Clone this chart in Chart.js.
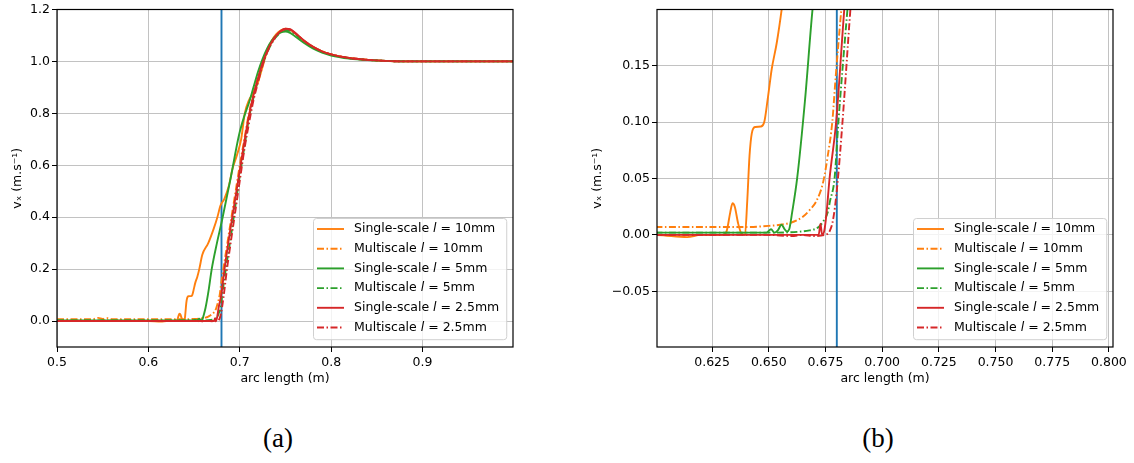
<!DOCTYPE html>
<html>
<head>
<meta charset="utf-8">
<script src="https://cdn.jsdelivr.net/npm/chart.js@4.4.0/dist/chart.umd.min.js"></script>
<style>
  body { margin: 0; background: #fff; width: 1134px; height: 463px; position: relative; overflow: hidden; }
  canvas { position: absolute; top: 0; }
  #left { left: 0; }
  #right { left: 567px; }
  .cap { position: absolute; top: 423px; width: 60px; margin-left: -30px; text-align: center;
         font-family: "Liberation Serif", "DejaVu Serif", serif; font-size: 27px; line-height: 30px; color: #000; }
</style>
</head>
<body>
<canvas id="left" width="567" height="395"></canvas>
<canvas id="right" width="567" height="395"></canvas>
<div class="cap" style="left:278px">(a)</div>
<div class="cap" style="left:878px">(b)</div>
<script>
// vertical marker
const markerX = 0.68;
const markerSpan = [-1, 2];

// Single-scale l = 10mm
const ss10x = [0.5, 0.52, 0.545, 0.55, 0.555, 0.56, 0.58, 0.6, 0.614, 0.62, 0.63, 0.6315, 0.633, 0.634, 0.635, 0.6365, 0.638, 0.6395, 0.6405, 0.6415, 0.6425, 0.644, 0.6465, 0.648, 0.6495, 0.6513, 0.6535, 0.6557, 0.659, 0.6655, 0.6716, 0.6755, 0.679, 0.683, 0.688, 0.692, 0.697, 0.7015, 0.7055, 0.71, 0.715, 0.72, 0.725, 0.73, 0.735, 0.74, 0.745, 0.75, 0.755, 0.76, 0.77, 0.78, 0.79, 0.80, 0.82, 0.84, 0.86, 0.88, 0.9, 0.95, 1.0];
const ss10y = [0, 0.001, 0, 0.003, 0, 0.002, 0, 0, -0.002, 0, 0, 0.004, 0.02, 0.028, 0.025, 0.01, 0.001, 0, 0.03, 0.07, 0.09, 0.0956, 0.096, 0.1, 0.12, 0.147, 0.17, 0.2, 0.255, 0.30, 0.357, 0.40, 0.446, 0.47, 0.52, 0.586, 0.64, 0.70, 0.80, 0.85, 0.88, 0.92, 0.98, 1.04, 1.08, 1.105, 1.12, 1.126, 1.123, 1.11, 1.08, 1.056, 1.039, 1.027, 1.013, 1.006, 1.002, 1.0, 1.0, 1.0, 1.0];

// Multiscale l = 10mm
const ms10x = [0.5, 0.53, 0.54, 0.545, 0.55, 0.555, 0.56, 0.6, 0.64, 0.65, 0.655, 0.66, 0.6625, 0.665, 0.668, 0.671, 0.674, 0.676, 0.678, 0.6795, 0.682, 0.686, 0.69, 0.695, 0.70, 0.705, 0.71, 0.715, 0.72, 0.725, 0.73, 0.735, 0.74, 0.745, 0.75, 0.755, 0.76, 0.77, 0.78, 0.79, 0.80, 0.82, 0.84, 0.86, 0.88, 0.9, 0.95, 1.0];
const ms10y = [0.007, 0.007, 0.008, 0.012, 0.008, 0.011, 0.007, 0.007, 0.007, 0.008, 0.009, 0.011, 0.013, 0.016, 0.022, 0.03, 0.047, 0.07, 0.1, 0.14, 0.2, 0.29, 0.38, 0.49, 0.60, 0.70, 0.80, 0.875, 0.94, 0.995, 1.04, 1.075, 1.10, 1.117, 1.125, 1.122, 1.11, 1.08, 1.056, 1.039, 1.027, 1.013, 1.006, 1.002, 1.0, 1.0, 1.0, 1.0];

// Single-scale l = 5mm
const ss5x = [0.5, 0.6, 0.649, 0.651, 0.6525, 0.654, 0.6556, 0.657, 0.658, 0.659, 0.6603, 0.6625, 0.666, 0.6693, 0.675, 0.681, 0.69, 0.699, 0.705, 0.71, 0.715, 0.72, 0.725, 0.73, 0.735, 0.74, 0.745, 0.75, 0.755, 0.76, 0.77, 0.78, 0.79, 0.80, 0.82, 0.84, 0.86, 0.88, 0.9, 0.95, 1.0];
const ss5y = [0.002, 0.002, 0.002, 0.005, 0.002, 0.004, 0.009, 0.005, 0.003, 0.005, 0.02, 0.05, 0.12, 0.2, 0.30, 0.395, 0.55, 0.714, 0.79, 0.84, 0.90, 0.96, 1.01, 1.05, 1.08, 1.10, 1.112, 1.115, 1.11, 1.098, 1.072, 1.05, 1.034, 1.023, 1.011, 1.005, 1.002, 1.0, 1.0, 1.0, 1.0];

// Multiscale l = 5mm
const ms5x = [0.5, 0.6, 0.65, 0.668, 0.672, 0.674, 0.676, 0.677, 0.679, 0.6807, 0.6847, 0.69, 0.695, 0.70, 0.705, 0.71, 0.715, 0.72, 0.725, 0.73, 0.735, 0.74, 0.745, 0.75, 0.755, 0.76, 0.77, 0.78, 0.79, 0.80, 0.82, 0.84, 0.86, 0.88, 0.9, 0.95, 1.0];
const ms5y = [0.002, 0.002, 0.002, 0.004, 0.007, 0.012, 0.02, 0.03, 0.05, 0.1, 0.2, 0.32, 0.44, 0.56, 0.67, 0.78, 0.86, 0.93, 0.99, 1.035, 1.07, 1.095, 1.113, 1.12, 1.118, 1.107, 1.078, 1.054, 1.037, 1.025, 1.012, 1.006, 1.002, 1.0, 1.0, 1.0, 1.0];

// Single-scale l = 2.5mm
const ss25x = [0.5, 0.6, 0.65, 0.672, 0.6728, 0.6735, 0.6745, 0.6755, 0.6768, 0.6797, 0.6833, 0.69, 0.695, 0.70, 0.705, 0.71, 0.715, 0.72, 0.725, 0.73, 0.735, 0.74, 0.745, 0.75, 0.755, 0.76, 0.77, 0.78, 0.79, 0.80, 0.82, 0.84, 0.86, 0.88, 0.9, 0.95, 1.0];
const ss25y = [0, 0, 0, 0, 0.01, 0, 0.004, 0.02, 0.05, 0.1, 0.2, 0.36, 0.47, 0.58, 0.69, 0.79, 0.87, 0.935, 0.995, 1.04, 1.075, 1.10, 1.118, 1.126, 1.124, 1.112, 1.082, 1.057, 1.039, 1.027, 1.013, 1.006, 1.002, 1.0, 1.0, 1.0, 1.0];

// Multiscale l = 2.5mm
const ms25x = [0.5, 0.6, 0.65, 0.66, 0.665, 0.67, 0.676, 0.677, 0.678, 0.6792, 0.6805, 0.6825, 0.686, 0.69, 0.695, 0.70, 0.705, 0.71, 0.715, 0.72, 0.725, 0.73, 0.735, 0.74, 0.745, 0.75, 0.755, 0.76, 0.77, 0.78, 0.79, 0.80, 0.82, 0.84, 0.86, 0.88, 0.9, 0.95, 1.0];
const ms25y = [0, 0, 0, -0.001, 0, -0.001, 0.001, 0.004, 0.01, 0.025, 0.05, 0.1, 0.2, 0.30, 0.42, 0.54, 0.66, 0.76, 0.85, 0.92, 0.985, 1.035, 1.072, 1.098, 1.116, 1.124, 1.122, 1.11, 1.08, 1.056, 1.039, 1.027, 1.013, 1.006, 1.002, 1.0, 1.0, 1.0, 1.0];

const seriesLabels = [
  'Single-scale l = 10mm', 'Multiscale l = 10mm',
  'Single-scale l = 5mm', 'Multiscale l = 5mm',
  'Single-scale l = 2.5mm', 'Multiscale l = 2.5mm'
];

const leftXTicks = [0.5, 0.6, 0.7, 0.8, 0.9];
const leftYTicks = [0, 0.2, 0.4, 0.6, 0.8, 1.0, 1.2];
const rightXTicks = [0.625, 0.65, 0.675, 0.7, 0.725, 0.75, 0.775, 0.8];
const rightYTicks = [-0.05, 0, 0.05, 0.1, 0.15];

const BLUE = '#1f77b4', ORANGE = '#ff7f0e', GREEN = '#2ca02c', RED = '#d62728';
const DASHDOT = [7, 2.5, 1.5, 2.5];
const FONT = 'DejaVu Sans';
const FSIZE = 12.5;

Chart.defaults.font.family = FONT;
Chart.defaults.font.size = FSIZE;
Chart.defaults.color = '#000';

const zip = (xs, ys) => xs.map((x, i) => ({ x: x, y: ys[i] }));

function buildDatasets() {
  const series = [
    [ss10x, ss10y, ORANGE, []], [ms10x, ms10y, ORANGE, DASHDOT],
    [ss5x, ss5y, GREEN, []], [ms5x, ms5y, GREEN, DASHDOT],
    [ss25x, ss25y, RED, []], [ms25x, ms25y, RED, DASHDOT]
  ];
  const ds = series.map((s, i) => ({
    label: seriesLabels[i],
    data: zip(s[0], s[1]),
    borderColor: s[2],
    borderDash: s[3],
    borderWidth: 1.9,
    pointRadius: 0,
    cubicInterpolationMode: 'monotone',
    order: 6 - i
  }));
  ds.push({
    label: 'marker',
    data: markerSpan.map(y => ({ x: markerX, y: y })),
    borderColor: BLUE,
    borderWidth: 1.9,
    pointRadius: 0,
    order: 10,
    isMarker: true
  });
  return ds;
}

// black frame on all four sides, like matplotlib spines
const frame = {
  id: 'frame',
  afterDatasetsDraw(chart) {
    const { ctx, chartArea: a } = chart;
    ctx.save();
    ctx.strokeStyle = '#000';
    ctx.lineWidth = 1.2;
    ctx.strokeRect(a.left, a.top, a.right - a.left, a.bottom - a.top);
    ctx.restore();
  }
};

// legend drawn inside the plot, lower right, with italic "l"
const legendBox = {
  id: 'legendBox',
  afterDraw(chart) {
    const { ctx, chartArea: a } = chart;
    const items = chart.data.datasets.filter(d => !d.isMarker);
    const fontN = FSIZE + 'px "' + FONT + '"';
    const fontI = 'italic ' + FSIZE + 'px "' + FONT + '"';
    ctx.save();
    const parts = items.map(d => {
      const p = d.label.split(' l ');
      return { pre: p[0] + ' ', post: ' ' + p[1] };
    });
    const widths = parts.map(p => {
      ctx.font = fontN;
      let w = ctx.measureText(p.pre).width + ctx.measureText(p.post).width;
      ctx.font = fontI;
      return w + ctx.measureText('l').width;
    });
    const rowH = 19.7;
    const w = 41 + Math.max(...widths) + 7;
    const h = rowH * items.length + 3;
    const x = Math.round(a.right - 7 - w), y = Math.round(a.bottom - 8 - h);

    ctx.beginPath();
    ctx.roundRect(x + 0.5, y + 0.5, w, h, 3);
    ctx.fillStyle = 'rgba(255,255,255,0.8)';
    ctx.fill();
    ctx.strokeStyle = '#d0d0d0';
    ctx.lineWidth = 1;
    ctx.stroke();

    items.forEach((d, i) => {
      const cy = y + 11 + i * rowH;
      ctx.beginPath();
      ctx.setLineDash(d.borderDash || []);
      ctx.strokeStyle = d.borderColor;
      ctx.lineWidth = d.borderWidth;
      ctx.moveTo(x + 4, cy);
      ctx.lineTo(x + 31, cy);
      ctx.stroke();
      ctx.setLineDash([]);

      ctx.fillStyle = '#000';
      ctx.textBaseline = 'middle';
      let tx = x + 41;
      ctx.font = fontN;
      ctx.fillText(parts[i].pre, tx, cy);
      tx += ctx.measureText(parts[i].pre).width;
      ctx.font = fontI;
      ctx.fillText('l', tx, cy);
      tx += ctx.measureText('l').width;
      ctx.font = fontN;
      ctx.fillText(parts[i].post, tx, cy);
    });
    ctx.restore();
  }
};

const fmt = (v, digits) => (v < 0 ? '\u2212' : '') + Math.abs(v).toFixed(digits);

function makeChart(id, cfg) {
  return new Chart(document.getElementById(id), {
    type: 'line',
    data: { datasets: buildDatasets() },
    options: {
      responsive: false,
      animation: false,
      devicePixelRatio: 1,
      layout: { padding: cfg.padding },
      plugins: { legend: { display: false }, tooltip: { enabled: false } },
      scales: {
        x: {
          type: 'linear',
          min: cfg.xRange[0],
          max: cfg.xRange[1],
          afterBuildTicks: s => { s.ticks = cfg.xTicks.map(v => ({ value: v })); },
          afterFit: s => { s.height = 48; },
          ticks: { callback: v => fmt(v, cfg.xDigits), padding: 3, maxRotation: 0, autoSkip: false, color: '#000' },
          grid: { color: '#c2c2c2', tickColor: '#000', tickLength: 5, lineWidth: 1 },
          border: { display: false },
          title: { display: true, text: 'arc length (m)', color: '#000', padding: { top: 0, bottom: 9 } }
        },
        y: {
          type: 'linear',
          min: cfg.yRange[0],
          max: cfg.yRange[1],
          afterBuildTicks: s => { s.ticks = cfg.yTicks.map(v => ({ value: v })); },
          afterFit: s => { s.width = cfg.yWidth; },
          ticks: { callback: v => fmt(v, cfg.yDigits), padding: 2, autoSkip: false, color: '#000' },
          grid: { color: '#c2c2c2', tickColor: '#000', tickLength: 5, lineWidth: 1 },
          border: { display: false },
          title: { display: true, text: 'v\u2093 (m.s\u207B\u00B9)', color: '#000', padding: { top: cfg.yTitlePad, bottom: 0 } }
        }
      }
    },
    plugins: [frame, legendBox]
  });
}

makeChart('left', {
  padding: { left: 0, top: 6, right: 54, bottom: 0 },
  xRange: [0.5, 0.999], yRange: [-0.1, 1.2],
  xTicks: leftXTicks, yTicks: leftYTicks,
  xDigits: 1, yDigits: 1,
  yWidth: 57, yTitlePad: 10
});

makeChart('right', {
  padding: { left: 20, top: 6, right: 21, bottom: 0 },
  xRange: [0.6007, 0.8018], yRange: [-0.0993, 0.1997],
  xTicks: rightXTicks, yTicks: rightYTicks,
  xDigits: 3, yDigits: 2,
  yWidth: 70, yTitlePad: 3.5
});
</script>
</body>
</html>
